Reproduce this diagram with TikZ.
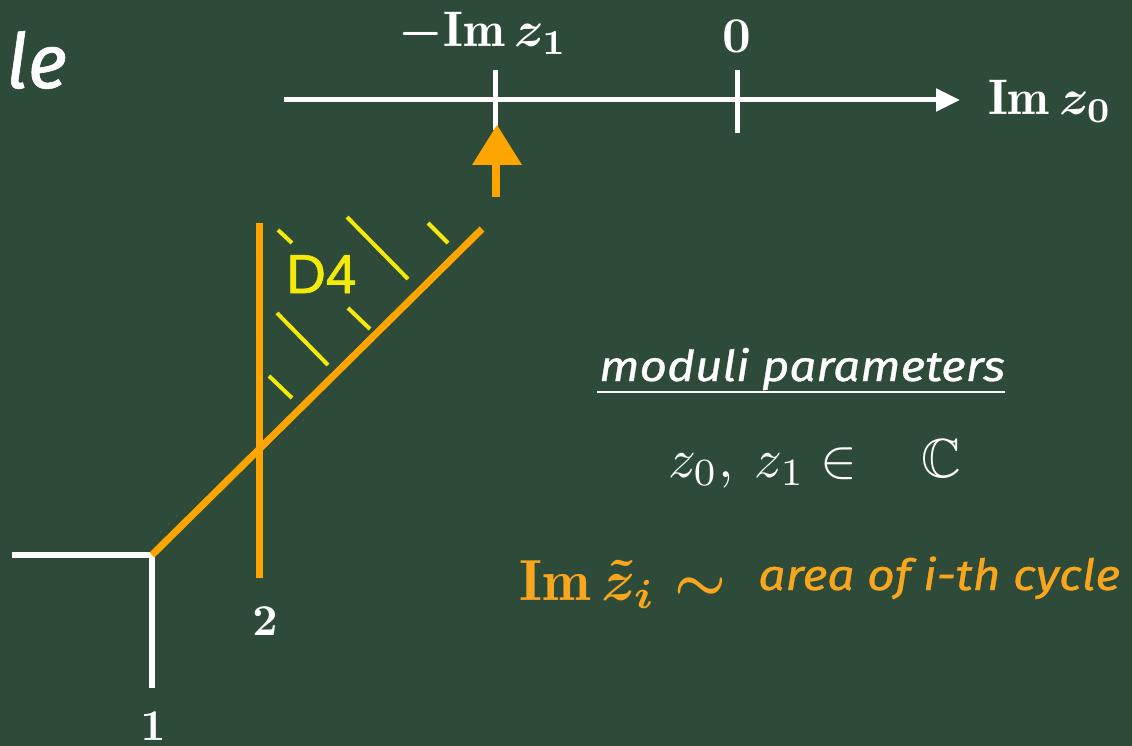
\documentclass[tikz,border=0pt]{standalone}
\usepackage{amsmath,amssymb}
\usepackage{fontspec}
\newfontfamily\handfont{Fira Sans}[FakeStretch=1.12,FakeBold=0.8]
\newfontfamily\titlefont{Fira Sans}[FakeBold=0.8]
\newfontfamily\dfont{Liberation Sans}[FakeBold=1.2]
\usetikzlibrary{arrows.meta}
\definecolor{board}{HTML}{2D4B38}
\definecolor{chalkorange}{HTML}{FFA500}
\definecolor{textorange}{HTML}{F7A61E}
\definecolor{hatchyellow}{HTML}{F3EA0A}
\newcommand\modsize{\fontsize{42.5}{48}\handfont\itshape}
\newcommand\areasize{\fontsize{43}{48}\handfont\itshape}
\newcommand\titlesize{\fontsize{76}{84}\titlefont\itshape}
\newcommand\dsize{\fontsize{55}{60}\dfont}
\newsavebox\bxlzone
\newsavebox\bxzero
\newsavebox\bxlzzero
\newsavebox\bxone
\newsavebox\bxtwo
\newsavebox\bxzz
\newsavebox\bximz
\tikzset{
  whiteline/.style={draw=white,line width=6.5pt},
  orangeline/.style={draw=chalkorange,line width=7pt},
  hatch/.style={draw=hatchyellow,line width=4pt},
  axisline/.style={draw=white,line width=5pt},
  mlabel/.style={inner sep=0pt,anchor=base},
}
\begin{document}
\begin{tikzpicture}[x=1pt,y=-1pt]
\sbox\bxlzone{\color{white}\boldmath$-\mathrm{Im}\mskip3mu z_1$}%
\sbox\bxzero{\color{white}\boldmath$0$}%
\sbox\bxlzzero{\color{white}\boldmath$\mathrm{Im}\mskip3mu z_0$}%
\sbox\bxone{\color{white}\boldmath$1$}%
\sbox\bxtwo{\color{white}\boldmath$2$}%
\sbox\bxzz{\color{white}$z_0,\mskip4mu z_1 \in\mskip16mu \mathbb{C}$}%
\sbox\bximz{\color{textorange}\boldmath$\mathrm{Im}\mskip3mu\tilde{z}_i \sim$}%
\fill[board] (0,0) rectangle (1132,746);
\useasboundingbox (0,0) rectangle (1132,746);
\clip (0,0) rectangle (1132,746);
\node[inner sep=0pt,text=white,anchor=base west,font=\titlesize] (title) at (6,88) {le};
\coordinate (axstart) at (284,100);
\coordinate (axend) at (960,100);
\draw[axisline,-{Triangle[length=24pt,width=22pt]}] (axstart) -- (axend);
\coordinate (t1a) at (495,70);
\coordinate (t1b) at (495,130);
\coordinate (t0a) at (737,70);
\coordinate (t0b) at (737,133);
\draw[axisline] (t1a) -- (t1b);
\draw[axisline] (t0a) -- (t0b);
\node[mlabel,scale=5.0] (lz1) at (483,47) {\usebox\bxlzone};
\node[mlabel,scale=5.0] (l0) at (737,53) {\usebox\bxzero};
\node[mlabel,anchor=base west,scale=5.0] (lz0) at (987,115) {\usebox\bxlzzero};
\coordinate (arrA) at (496,197);
\coordinate (arrB) at (496,160);
\draw[draw=chalkorange,line width=8pt] (arrA) -- (arrB);
\fill[chalkorange] (472,165) -- (497,125) -- (522,165) -- cycle;
\coordinate (c1) at (152,555);
\coordinate (wl) at (12,555);
\coordinate (wb) at (152,688);
\draw[whiteline] (wl) -- (c1);
\draw[whiteline] (c1) -- (wb);
\coordinate (d2) at (482,229);
\coordinate (v2t) at (259,223);
\coordinate (v2b) at (259,578);
\draw[orangeline] (c1) -- (d2);
\draw[orangeline] (v2t) -- (v2b);
\draw[hatch] (278,230) -- (292,243);
\draw[hatch] (347,217) -- (408,279);
\draw[hatch] (428,223) -- (448,243);
\draw[hatch] (348,308) -- (370,329);
\draw[hatch] (277,313) -- (328,365);
\draw[hatch] (269,376) -- (292,398);
\node[text=hatchyellow,inner sep=0pt,anchor=base west,font=\dsize] (d4) at (286,293) {D4};
\node[mlabel,scale=4.4] (n1) at (153,740) {\usebox\bxone};
\node[mlabel,scale=4.4] (n2) at (265,635) {\usebox\bxtwo};
\node[inner sep=0pt,anchor=base west,text=white,font=\modsize] (mod) at (599,381) {moduli parameters};
\coordinate (ul1) at (597,392);
\coordinate (ul2) at (1005,392);
\draw[draw=white,line width=2.5pt] (ul1) -- (ul2);
\node[mlabel,anchor=base west,scale=5.5] (zz) at (667,477) {\usebox\bxzz};
\node[mlabel,anchor=base west,scale=5.8] (imz) at (518,600) {\usebox\bximz};
\node[inner sep=0pt,anchor=base west,text=textorange,font=\areasize] (area) at (758,590) {area of i-th cycle};
\end{tikzpicture}
\end{document}
